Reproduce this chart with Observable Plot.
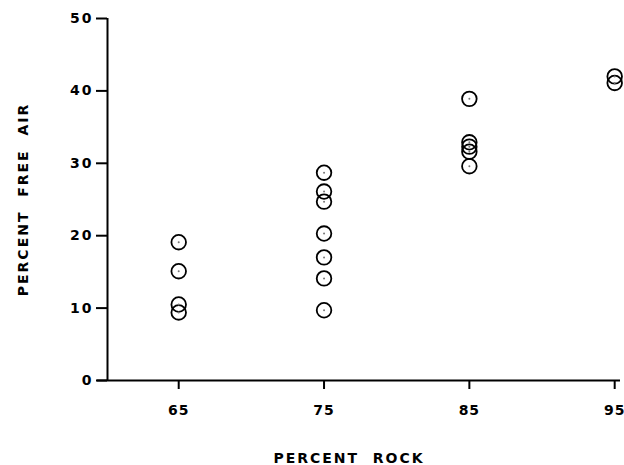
<!DOCTYPE html>
<html>
<head>
<meta charset="utf-8">
<script src="https://cdn.jsdelivr.net/npm/d3@7"></script>
<script src="https://cdn.jsdelivr.net/npm/@observablehq/plot@0.6"></script>
<style>
  html, body { margin: 0; padding: 0; background: white; }
  svg g[aria-label="y-axis tick label"] text { letter-spacing: 2px; font-size: 14px; }
  svg g[aria-label="x-axis tick label"] text { letter-spacing: 1px; font-size: 14px; }
  svg g.axlabel text { letter-spacing: 2px; font-size: 14px; }
</style>
</head>
<body>
<div id="chart"></div>
<script>
const rock = [65, 65, 65, 65,
              75, 75, 75, 75, 75, 75, 75,
              85, 85, 85, 85, 85,
              95, 95];
const air  = [19.1, 15.1, 10.5, 9.4,
              28.7, 26.1, 24.7, 20.3, 17.0, 14.1, 9.7,
              38.9, 32.9, 32.3, 31.6, 29.6,
              42.0, 41.1];
const xTicks = [65, 75, 85, 95];
const yTicks = [0, 10, 20, 30, 40, 50];
const xLabel = "PERCENT\u00a0\u00a0ROCK";
const yLabel = "PERCENT\u00a0\u00a0FREE\u00a0\u00a0AIR";

const data = rock.map((r, i) => ({rock: r, air: air[i]}));

const chart = Plot.plot({
  width: 624,
  height: 465,
  marginLeft: 107,
  marginRight: 4,
  marginTop: 18,
  marginBottom: 85,
  x: {domain: [60.1, 95.4]},
  y: {domain: [0, 50]},
  style: {fontFamily: "DejaVu Sans", fontWeight: "bold", fontSize: "14px", color: "black", background: "white"},
  marks: [
    Plot.ruleX([60.1], {y1: 0, y2: 50, strokeWidth: 2}),
    Plot.ruleY([0], {x1: 59.4, x2: 95.4, strokeWidth: 2}),
    Plot.axisY({ticks: yTicks, tickSize: 11, tickPadding: 3, strokeWidth: 2, label: null, fontSize: 14}),
    Plot.axisX({ticks: xTicks, tickSize: 9, tickPadding: 16, strokeWidth: 2, label: null, fontSize: 14}),
    Plot.text([yLabel], {text: d => d, frameAnchor: "left", rotate: -90, dx: -84, textAnchor: "middle", lineAnchor: "middle", fontSize: 14, className: "axlabel"}),
    Plot.text([xLabel], {text: d => d, frameAnchor: "bottom", dx: -15, dy: 82, textAnchor: "middle", lineAnchor: "bottom", fontSize: 14, className: "axlabel"}),
    Plot.dot(data, {x: "rock", y: "air", r: 7.3, stroke: "black", strokeWidth: 1.8, fill: "none"}),
    Plot.dot(data, {x: "rock", y: "air", r: 1, fill: "#777", stroke: "none"})
  ]
});
document.getElementById("chart").append(chart);
</script>
</body>
</html>
